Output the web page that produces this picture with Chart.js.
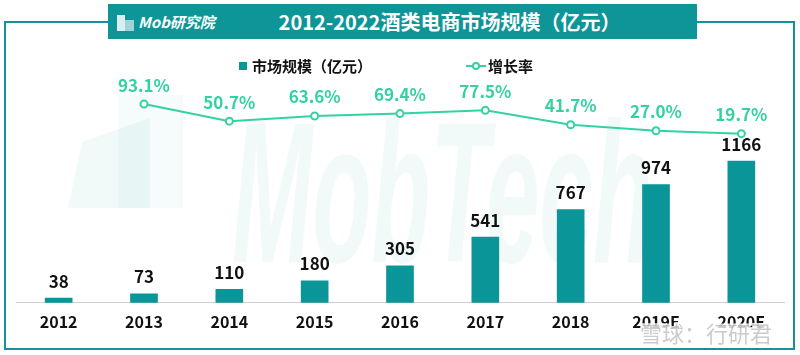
<!DOCTYPE html>
<html>
<head>
<meta charset="utf-8">
<script src="https://cdn.jsdelivr.net/npm/chart.js@4/dist/chart.umd.min.js"></script>
<style>
  html, body { margin: 0; padding: 0; background: #fff; }
  #wrap { position: relative; width: 800px; height: 355px; overflow: hidden; font-family: "Noto Sans CJK SC", sans-serif; }
  #frame { position: absolute; left: 4px; top: 21px; width: 787px; height: 325px; border: 2px solid #17909a; }
  #banner { position: absolute; left: 108px; top: 4px; width: 589px; height: 35px; background: #0e9598; z-index: 3; }
  #title { position: absolute; left: 0; width: 100%; top: 0; height: 35px; line-height: 35px; text-align: center; color: #fff; font-family: "Noto Sans CJK SC", sans-serif; font-weight: 700; font-size: 20px; padding-left: 94px; box-sizing: border-box; }
  #logo { position: absolute; left: 30px; top: 0; height: 35px; line-height: 35px; color: #fff; font-family: "Noto Sans CJK SC", sans-serif; font-style: italic; font-weight: 700; font-size: 15px; }
  #icon1 { position: absolute; left: 9px; top: 11px; width: 8px; height: 16px; background: rgba(255,255,255,0.85); }
  #icon2 { position: absolute; left: 17px; top: 16px; width: 9px; height: 11px; background: rgba(255,255,255,0.6); }
  canvas { position: absolute; left: 0; top: 0; z-index: 2; }
</style>
</head>
<body>
<div id="wrap">
  <div id="frame"></div>
  <div id="banner">
    <div id="icon1"></div><div id="icon2"></div>
    <div id="logo">Mob研究院</div>
    <div id="title">2012-2022酒类电商市场规模（亿元）</div>
  </div>
  <canvas id="c" width="800" height="355"></canvas>
</div>
<script>
const categories = ["2012", "2013", "2014", "2015", "2016", "2017", "2018", "2019E", "2020E"];
const marketSize = [38, 73, 110, 180, 305, 541, 767, 974, 1166];
const growthRate = [null, 93.1, 50.7, 63.6, 69.4, 77.5, 41.7, 27.0, 19.7];
const growthLabels = ["", "93.1%", "50.7%", "63.6%", "69.4%", "77.5%", "41.7%", "27.0%", "19.7%"];
const seriesNames = ["市场规模（亿元）", "增长率"];

const BAR = '#0a9598';
const LINE = '#33d2a2';
const FONT = '"Noto Sans CJK SC", "Noto Sans", sans-serif';

const watermark = {
  id: 'watermark',
  beforeDatasetsDraw(chart) {
    const ctx = chart.ctx;
    ctx.save();
    ctx.fillStyle = 'rgba(14,150,152,0.06)';
    ctx.beginPath();
    ctx.moveTo(68, 208); ctx.lineTo(82, 142); ctx.lineTo(150, 118); ctx.lineTo(150, 208); ctx.closePath(); ctx.fill();
    ctx.fillStyle = 'rgba(14,150,152,0.035)';
    ctx.fillRect(118, 95, 65, 113);
    ctx.fillStyle = 'rgba(14,150,152,0.06)';
    ctx.font = 'italic bold 200px "Liberation Sans", sans-serif';
    ctx.textBaseline = 'alphabetic';
    ctx.textAlign = 'left';
    const w = ctx.measureText('MobTech').width;
    ctx.translate(232, 262);
    ctx.scale(420 / w, 1);
    ctx.fillText('MobTech', 0, 0);
    ctx.restore();
  },
  afterDraw(chart) {
    const ctx = chart.ctx;
    ctx.save();
    ctx.font = '22px ' + FONT;
    ctx.textBaseline = 'middle';
    ctx.textAlign = 'left';
    ctx.lineWidth = 3;
    ctx.strokeStyle = 'rgba(255,255,255,0.8)';
    ctx.strokeText('雪球：行研君', 640, 334);
    ctx.fillStyle = 'rgba(160,160,160,0.55)';
    ctx.fillText('雪球：行研君', 640, 334);
    ctx.restore();
  }
};

const valueLabels = {
  id: 'valueLabels',
  afterDatasetsDraw(chart) {
    const ctx = chart.ctx;
    ctx.save();
    ctx.textAlign = 'center';
    ctx.textBaseline = 'middle';
    const barMeta = chart.getDatasetMeta(1);
    ctx.font = 'bold 17px ' + FONT;
    ctx.fillStyle = '#111';
    barMeta.data.forEach((el, i) => {
      ctx.fillText(String(marketSize[i]), el.x, el.y - 17);
    });
    const lineMeta = chart.getDatasetMeta(0);
    ctx.fillStyle = LINE;
    lineMeta.data.forEach((el, i) => {
      if (growthRate[i] === null) return;
      ctx.fillText(growthLabels[i], el.x, el.y - 19);
    });
    ctx.restore();
  }
};

const customLegend = {
  id: 'customLegend',
  afterDraw(chart) {
    const ctx = chart.ctx;
    ctx.save();
    const y = 66;
    ctx.fillStyle = BAR;
    ctx.fillRect(239, y - 4, 8, 8);
    ctx.font = 'bold 15px ' + FONT;
    ctx.fillStyle = '#111';
    ctx.textBaseline = 'middle';
    ctx.textAlign = 'left';
    ctx.fillText(seriesNames[0], 252, y);
    ctx.strokeStyle = LINE;
    ctx.lineWidth = 2;
    ctx.beginPath(); ctx.moveTo(466, y); ctx.lineTo(486, y); ctx.stroke();
    ctx.beginPath(); ctx.arc(476, y, 3, 0, Math.PI * 2);
    ctx.fillStyle = '#fff'; ctx.fill(); ctx.stroke();
    ctx.fillStyle = '#111';
    ctx.fillText(seriesNames[1], 488, y);
    ctx.restore();
  }
};

new Chart(document.getElementById('c'), {
  type: 'bar',
  data: {
    labels: categories,
    datasets: [
      {
        type: 'line',
        label: seriesNames[1],
        data: growthRate,
        yAxisID: 'y2',
        borderColor: LINE,
        borderWidth: 2,
        pointRadius: 3.5,
        pointBorderWidth: 2,
        pointBackgroundColor: '#fff',
        pointBorderColor: LINE,
        tension: 0,
        spanGaps: false,
        order: 0
      },
      {
        type: 'bar',
        label: seriesNames[0],
        data: marketSize,
        yAxisID: 'y',
        backgroundColor: BAR,
        barThickness: 27,
        order: 1
      }
    ]
  },
  options: {
    responsive: false,
    animation: false,
    layout: { padding: { left: 16, right: 16, top: 90, bottom: 13 } },
    plugins: { legend: { display: false }, tooltip: { enabled: false } },
    scales: {
      x: {
        grid: { display: false, drawTicks: false },
        border: { display: true, color: '#d0d0d0', width: 1 },
        ticks: { color: '#111', padding: 10, font: { family: FONT, size: 16, weight: 'bold' } }
      },
      y: { display: false, min: 0, max: 1752 },
      y2: { display: false, min: -400, max: 128 }
    }
  },
  plugins: [watermark, valueLabels, customLegend]
});
</script>
</body>
</html>
